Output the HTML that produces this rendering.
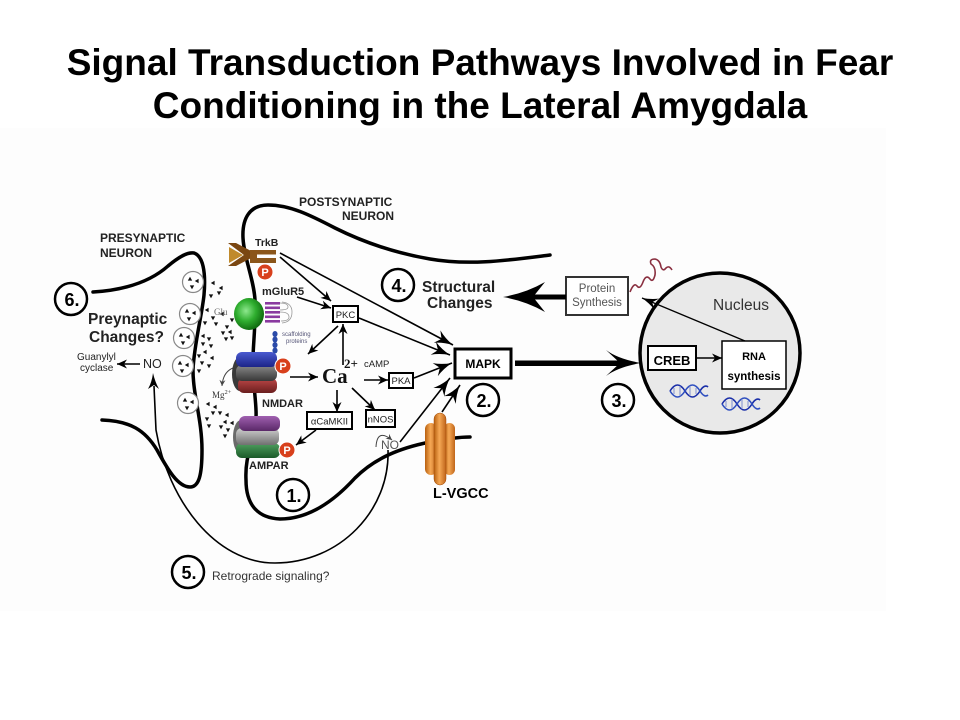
<!DOCTYPE html>
<html><head><meta charset="utf-8"><style>
html,body{margin:0;padding:0;background:#fff;}
svg{display:block;}
</style></head><body>
<svg width="960" height="720" viewBox="0 0 960 720" xmlns="http://www.w3.org/2000/svg" font-family="'Liberation Sans', Arial, sans-serif">
<defs>
  <marker id="mB" viewBox="-20 -10 22 20" refX="0" refY="0" markerWidth="22" markerHeight="20" markerUnits="userSpaceOnUse" orient="auto">
    <path d="M0,0 Q-10,-2 -18,-7 L-13,0 L-18,7 Q-10,2 0,0 Z" fill="#000"/>
  </marker>
  <marker id="mM" viewBox="-12 -6 14 12" refX="0" refY="0" markerWidth="14" markerHeight="12" markerUnits="userSpaceOnUse" orient="auto">
    <path d="M0,0 L-10,-4.5 L-7,0 L-10,4.5 Z" fill="#000"/>
  </marker>
  <marker id="mT" viewBox="-18 -8 20 16" refX="0" refY="0" markerWidth="20" markerHeight="16" markerUnits="userSpaceOnUse" orient="auto">
    <path d="M0,0 Q-9,-2 -16,-6 L-11,0 L-16,6 Q-9,2 0,0 Z" fill="#000"/>
  </marker>
  <marker id="mS" viewBox="-8 -4 10 8" refX="0" refY="0" markerWidth="10" markerHeight="8" markerUnits="userSpaceOnUse" orient="auto">
    <path d="M0,0 L-6,-3 L-4,0 L-6,3 Z" fill="#444"/>
  </marker>
  <radialGradient id="gG" cx="40%" cy="40%" r="65%">
    <stop offset="0" stop-color="#8ee88e"/><stop offset="0.5" stop-color="#2fae2f"/><stop offset="1" stop-color="#0c640c"/>
  </radialGradient>
  <linearGradient id="gO" x1="0" y1="0" x2="1" y2="0">
    <stop offset="0" stop-color="#b8600f"/><stop offset="0.45" stop-color="#f5a855"/><stop offset="1" stop-color="#c0651a"/>
  </linearGradient>
  <linearGradient id="gBl" x1="0" y1="0" x2="0" y2="1">
    <stop offset="0" stop-color="#4a5ad0"/><stop offset="1" stop-color="#1c2488"/>
  </linearGradient>
  <linearGradient id="gDk" x1="0" y1="0" x2="0" y2="1">
    <stop offset="0" stop-color="#8a8a8a"/><stop offset="1" stop-color="#383838"/>
  </linearGradient>
  <linearGradient id="gRd" x1="0" y1="0" x2="0" y2="1">
    <stop offset="0" stop-color="#c04848"/><stop offset="1" stop-color="#6a1e1e"/>
  </linearGradient>
  <linearGradient id="gPu" x1="0" y1="0" x2="0" y2="1">
    <stop offset="0" stop-color="#a060b0"/><stop offset="1" stop-color="#5a2868"/>
  </linearGradient>
  <linearGradient id="gLg" x1="0" y1="0" x2="0" y2="1">
    <stop offset="0" stop-color="#d0d0d0"/><stop offset="1" stop-color="#707070"/>
  </linearGradient>
  <linearGradient id="gGr" x1="0" y1="0" x2="0" y2="1">
    <stop offset="0" stop-color="#50a060"/><stop offset="1" stop-color="#1a5a28"/>
  </linearGradient>
  <path id="td" d="M-2.2,-1.6 L2.2,-1.6 L0,2.2 Z" fill="#111"/>
  <path id="tl" d="M1.6,-2.2 L1.6,2.2 L-2.2,0 Z" fill="#111"/>
  <path id="tu" d="M-2.2,1.6 L2.2,1.6 L0,-2.2 Z" fill="#111"/>
</defs>

<rect width="960" height="720" fill="#fff"/>
<rect x="0" y="128" width="886" height="483" fill="#fdfdfd"/>

<!-- Title -->
<text x="480" y="75" font-size="37" font-weight="bold" text-anchor="middle" fill="#000">Signal Transduction Pathways Involved in Fear</text>
<text x="480" y="118" font-size="37" font-weight="bold" text-anchor="middle" fill="#000">Conditioning in the Lateral Amygdala</text>

<!-- Membranes -->
<g fill="none" stroke="#000" stroke-width="3.5" stroke-linecap="round">
  <path d="M93,292 C125,290 150,282 168,266 C180,256 188,252 194,253 C203,256 206,272 204,295 C202,315 194,345 193,370 C193,395 202,420 202,450 C202,475 199,487 190,487 C178,487 168,470 157,450 C145,430 130,421 102,420"/>
  <path d="M550,255 C510,260 470,266 430,259 C395,253 365,243 335,228 C310,215 290,205 268,205 C250,205 242,218 243,238 C244,258 254,280 255,300 C256,330 252,350 253,370 C254,395 258,410 255,430 C250,450 245,460 246,480 C246,505 258,518 280,519 C310,519 335,500 355,478 C375,458 400,448 430,442 C445,439 460,437 470,437"/>
</g>
<!-- Retrograde -->
<path d="M388,450 C390,510 340,563 275,563 C215,563 168,500 156,430 L154,386" fill="none" stroke="#000" stroke-width="1.6"/>
<path d="M153,373 Q155,382 159,389 L154,385 L148,389 Q152,382 153,373 Z" fill="#000"/>

<!-- Nucleus -->
<circle cx="720" cy="353" r="80" fill="#e9e9e9" stroke="#000" stroke-width="3.5"/>
<text x="741" y="310" font-size="15.5" text-anchor="middle" fill="#333">Nucleus</text>

<!-- Boxes -->
<g fill="#fff" stroke="#000">
  <rect x="333" y="306" width="25" height="16" stroke-width="2"/>
  <rect x="389" y="373" width="24" height="15" stroke-width="2"/>
  <rect x="307" y="412" width="45" height="17" stroke-width="2"/>
  <rect x="366" y="410" width="29" height="17" stroke-width="2"/>
  <rect x="455" y="349" width="56" height="29" stroke-width="3"/>
  <rect x="566" y="277" width="62" height="38" stroke-width="2" stroke="#333"/>
  <rect x="648" y="346" width="48" height="24" stroke-width="2"/>
  <rect x="722" y="341" width="64" height="48" stroke-width="1.5"/>
</g>
<g font-size="9.5" fill="#222" text-anchor="middle">
  <text x="345.5" y="318">PKC</text>
  <text x="401" y="384">PKA</text>
  <text x="329.5" y="424.5">αCaMKII</text>
  <text x="380.5" y="422.5">nNOS</text>
</g>
<text x="483" y="368" font-size="12" font-weight="bold" text-anchor="middle">MAPK</text>
<text x="597" y="292" font-size="11.5" text-anchor="middle" fill="#555">Protein</text>
<text x="597" y="306" font-size="11.5" text-anchor="middle" fill="#555">Synthesis</text>
<text x="672" y="365" font-size="13" font-weight="bold" text-anchor="middle">CREB</text>
<text x="754" y="360" font-size="11" font-weight="bold" text-anchor="middle">RNA</text>
<text x="754" y="380" font-size="11.5" font-weight="bold" text-anchor="middle">synthesis</text>

<!-- Big arrows -->
<rect x="530" y="294.5" width="36" height="5" fill="#000"/>
<path d="M503,297 Q526,293 545,282 L533,297 L545,312 Q526,301 503,297 Z" fill="#000"/>
<rect x="515" y="360.5" width="110" height="5.5" fill="#000"/>
<path d="M641,363 Q618,359 606,350 L620,363 L606,376 Q618,367 641,363 Z" fill="#000"/>
<line x1="696" y1="358" x2="722" y2="358" stroke="#000" stroke-width="1.6" marker-end="url(#mM)"/>
<line x1="745" y1="341" x2="642" y2="298" stroke="#000" stroke-width="1.3" marker-end="url(#mT)"/>

<!-- Pathway arrows -->
<g stroke="#000" stroke-width="1.6" fill="none">
  <line x1="280" y1="257" x2="331" y2="301" marker-end="url(#mM)"/>
  <line x1="280" y1="253" x2="453" y2="345" marker-end="url(#mB)"/>
  <line x1="297" y1="297" x2="331" y2="308" marker-end="url(#mM)"/>
  <line x1="359" y1="318" x2="450" y2="355" marker-end="url(#mB)"/>
  <line x1="338" y1="326" x2="308" y2="354" marker-end="url(#mM)"/>
  <line x1="343" y1="365" x2="343" y2="324" marker-end="url(#mM)"/>
  <line x1="290" y1="377" x2="318" y2="377" marker-end="url(#mM)"/>
  <line x1="364" y1="380" x2="388" y2="380" marker-end="url(#mM)"/>
  <line x1="414" y1="378" x2="452" y2="363" marker-end="url(#mB)"/>
  <line x1="337" y1="390" x2="337" y2="412" marker-end="url(#mM)"/>
  <line x1="352" y1="388" x2="375" y2="410" marker-end="url(#mM)"/>
  <line x1="316" y1="430" x2="296" y2="445" marker-end="url(#mM)"/>
  <line x1="400" y1="442" x2="450" y2="378" marker-end="url(#mB)"/>
  <line x1="442" y1="412" x2="460" y2="385" marker-end="url(#mB)"/>
  <line x1="140" y1="364" x2="117" y2="364" marker-end="url(#mM)"/>
</g>
<path d="M376,447 Q377,428 392,440" fill="none" stroke="#444" stroke-width="1" marker-end="url(#mS)"/>
<path d="M233,368 Q223,372 222,386" fill="none" stroke="#444" stroke-width="1" marker-end="url(#mS)"/>

<!-- L-VGCC -->
<rect x="425" y="423" width="12" height="52" rx="6" fill="url(#gO)"/>
<rect x="444" y="423" width="11" height="52" rx="5.5" fill="url(#gO)"/>
<rect x="434" y="413" width="12" height="72" rx="6" fill="url(#gO)" stroke="#a04a08" stroke-width="0.5"/>
<text x="433" y="498" font-size="14.5" font-weight="bold">L-VGCC</text>

<!-- Vesicles -->
<g fill="#fff" stroke="#888" stroke-width="1.2">
  <circle cx="193" cy="282" r="10.5"/>
  <circle cx="190" cy="314" r="10.5"/>
  <circle cx="184" cy="338" r="10.5"/>
  <circle cx="183" cy="366" r="10.5"/>
  <circle cx="188" cy="403" r="10.5"/>
</g>
<g>
  <use href="#tu" x="190" y="279"/><use href="#tl" x="197" y="281"/><use href="#td" x="192" y="287"/>
  <use href="#tu" x="187" y="311"/><use href="#tl" x="194" y="313"/><use href="#td" x="189" y="319"/>
  <use href="#tu" x="181" y="335"/><use href="#tl" x="188" y="337"/><use href="#td" x="183" y="343"/>
  <use href="#tu" x="180" y="363"/><use href="#tl" x="187" y="365"/><use href="#td" x="182" y="371"/>
  <use href="#tu" x="185" y="400"/><use href="#tl" x="192" y="402"/><use href="#td" x="187" y="408"/>
  <use href="#tl" x="213" y="283"/><use href="#td" x="211" y="296"/><use href="#td" x="219" y="293"/><use href="#tl" x="221" y="288"/>
  <use href="#tl" x="207" y="310"/><use href="#td" x="213" y="318"/><use href="#td" x="216" y="324"/><use href="#td" x="205" y="323"/>
  <use href="#tl" x="222" y="314"/><use href="#td" x="227" y="327"/><use href="#td" x="223" y="333"/><use href="#td" x="232" y="320"/>
  <use href="#tl" x="203" y="336"/><use href="#td" x="209" y="339"/><use href="#td" x="203" y="344"/><use href="#td" x="211" y="346"/>
  <use href="#td" x="226" y="339"/><use href="#td" x="232" y="338"/><use href="#tl" x="230" y="332"/>
  <use href="#td" x="199" y="356"/><use href="#tl" x="205" y="352"/><use href="#tl" x="212" y="358"/><use href="#td" x="202" y="363"/>
  <use href="#td" x="199" y="371"/><use href="#td" x="209" y="366"/>
  <use href="#tl" x="208" y="404"/><use href="#tl" x="215" y="407"/><use href="#td" x="213" y="413"/><use href="#td" x="220" y="413"/>
  <use href="#td" x="207" y="419"/><use href="#tl" x="227" y="415"/><use href="#tl" x="225" y="422"/><use href="#td" x="228" y="430"/>
  <use href="#td" x="221" y="427"/><use href="#td" x="225" y="436"/><use href="#td" x="209" y="426"/><use href="#tl" x="232" y="423"/>
</g>

<!-- TrkB -->
<path d="M228,243 L236,243 L253,252 L253,257 L236,266 L228,266 L244,255 Z" fill="#7a4712"/>
<path d="M229,247 L243,255 L229,263 Z" fill="#c08a2c"/>
<path d="M250,250 L276,250 L276,254.5 L257,254.5 L257,258 L276,258 L276,263 L250,263 Z" fill="#8b561a"/>
<circle cx="265" cy="272" r="8" fill="#d8401c" stroke="#fff" stroke-width="1"/>
<text x="265" y="276" font-size="11" font-weight="bold" fill="#fff" text-anchor="middle">P</text>
<text x="255" y="246" font-size="10.5" font-weight="bold" fill="#222">TrkB</text>

<!-- mGluR5 -->
<g fill="#8a3aa0">
  <rect x="265" y="302" width="15" height="2.6"/>
  <rect x="265" y="306.5" width="15" height="2.6"/>
  <rect x="265" y="311" width="15" height="2.6"/>
  <rect x="265" y="315.5" width="15" height="2.6"/>
  <rect x="265" y="320" width="15" height="2.6"/>
</g>
<path d="M280,303 q8,0 8,4 q0,3 -8,3 M280,312 q9,0 9,5 q0,4 -8,4 M282,302 q10,1 10,10 q0,10 -10,11" fill="none" stroke="#999" stroke-width="0.8"/>
<ellipse cx="249" cy="314" rx="15" ry="16" fill="url(#gG)"/>
<text x="214" y="315" font-size="9" font-family="'Liberation Serif', serif" fill="#666">Glu</text>
<text x="262" y="295" font-size="11" font-weight="bold" fill="#222">mGluR5</text>
<g fill="#2a4aa8">
  <ellipse cx="275" cy="334" rx="2.6" ry="3"/>
  <ellipse cx="275" cy="339.5" rx="2.6" ry="3"/>
  <ellipse cx="275" cy="345" rx="2.6" ry="3"/>
  <ellipse cx="275" cy="350.5" rx="2.6" ry="3"/>
</g>
<text x="282" y="336" font-size="6" fill="#557">scaffolding</text>
<text x="286" y="343" font-size="6" fill="#557">proteins</text>

<!-- NMDAR -->
<ellipse cx="240" cy="374" rx="8" ry="17" fill="#3a3a3a"/>
<rect x="238" y="378" width="39" height="15" rx="6" fill="url(#gRd)"/>
<rect x="236" y="365" width="41" height="16" rx="6" fill="url(#gDk)"/>
<rect x="236" y="352" width="41" height="15" rx="6" fill="url(#gBl)"/>
<circle cx="283" cy="366" r="8" fill="#d8401c" stroke="#fff" stroke-width="1"/>
<text x="283" y="370" font-size="11" font-weight="bold" fill="#fff" text-anchor="middle">P</text>
<text x="262" y="407" font-size="11" font-weight="bold" fill="#222">NMDAR</text>
<text x="212" y="398" font-size="9" font-family="'Liberation Serif', serif" fill="#333">Mg<tspan font-size="6.5" dy="-4">2+</tspan></text>

<!-- AMPAR -->
<ellipse cx="241" cy="437" rx="8" ry="17" fill="#6a6a6a"/>
<rect x="236" y="443" width="44" height="15" rx="6" fill="url(#gGr)"/>
<rect x="236" y="428" width="43" height="17" rx="6" fill="url(#gLg)"/>
<rect x="239" y="416" width="41" height="15" rx="6" fill="url(#gPu)"/>
<circle cx="287" cy="450" r="8" fill="#d8401c" stroke="#fff" stroke-width="1"/>
<text x="287" y="454" font-size="11" font-weight="bold" fill="#fff" text-anchor="middle">P</text>
<text x="249" y="469" font-size="11" font-weight="bold" fill="#222">AMPAR</text>

<!-- Ca2+, cAMP, NO -->
<text x="322" y="383" font-size="21" font-weight="bold" font-family="'Liberation Serif', serif" fill="#111">Ca</text>
<text x="344" y="368" font-size="13" font-weight="bold" font-family="'Liberation Serif', serif" fill="#111">2+</text>
<text x="364" y="367" font-size="9.5" fill="#222">cAMP</text>
<text x="390" y="449" font-size="12" text-anchor="middle" fill="#555">NO</text>

<!-- Labels -->
<text x="100" y="242" font-size="12" font-weight="bold" fill="#222">PRESYNAPTIC</text>
<text x="100" y="257" font-size="12" font-weight="bold" fill="#222">NEURON</text>
<text x="299" y="206" font-size="12" font-weight="bold" fill="#222">POSTSYNAPTIC</text>
<text x="394" y="220" font-size="12" font-weight="bold" fill="#222" text-anchor="end">NEURON</text>
<text x="422" y="292" font-size="15.5" font-weight="bold" fill="#222">Structural</text>
<text x="427" y="308" font-size="15.5" font-weight="bold" fill="#222">Changes</text>
<text x="88" y="324" font-size="15.5" font-weight="bold" fill="#222">Preynaptic</text>
<text x="89" y="342" font-size="15.5" font-weight="bold" fill="#222">Changes?</text>
<text x="77" y="360" font-size="10" fill="#222">Guanylyl</text>
<text x="80" y="371" font-size="10" fill="#222">cyclase</text>
<text x="143" y="368" font-size="12.5" fill="#222">NO</text>
<text x="212" y="580" font-size="12" fill="#333">Retrograde signaling?</text>

<!-- Number circles -->
<g fill="#fff" stroke="#000" stroke-width="2.5">
  <circle cx="71" cy="299" r="16"/>
  <circle cx="293" cy="495" r="16"/>
  <circle cx="188" cy="572" r="16"/>
  <circle cx="398" cy="285" r="16"/>
  <circle cx="483" cy="400" r="16"/>
  <circle cx="618" cy="400" r="16"/>
</g>
<g font-size="18" font-weight="bold" text-anchor="middle" fill="#000">
  <text x="72" y="306">6.</text>
  <text x="294" y="502">1.</text>
  <text x="189" y="579">5.</text>
  <text x="399" y="292">4.</text>
  <text x="484" y="407">2.</text>
  <text x="619" y="407">3.</text>
</g>

<!-- mRNA squiggle -->
<path d="M630,292 q4,-10 7,-6 q3,4 6,-4 q3,-8 7,-3 q3,4 5,-4 q1,-8 -4,-11 q-2,-5 4,-5 q5,1 6,8 q2,5 5,1 q3,-3 6,2" fill="none" stroke="#8a3040" stroke-width="1.6"/>

<!-- DNA -->
<g fill="none" stroke-width="1.6">
  <path d="M670,391 C675,383 680,383 685,391 C690,399 695,399 700,391 C703,386 706,385 708,387" stroke="#1a2ea8"/>
  <path d="M670,391 C675,399 680,399 685,391 C690,383 695,383 700,391 C703,396 706,397 708,395" stroke="#3050c0"/>
  <path d="M674,388 v6 M680,386 v10 M690,386 v10 M696,388 v6" stroke="#8090d0" stroke-width="1"/>
  <path d="M722,404 C727,396 732,396 737,404 C742,412 747,412 752,404 C755,399 758,398 760,400" stroke="#1a2ea8"/>
  <path d="M722,404 C727,412 732,412 737,404 C742,396 747,396 752,404 C755,409 758,410 760,408" stroke="#3050c0"/>
  <path d="M726,401 v6 M732,399 v10 M742,399 v10 M748,401 v6" stroke="#8090d0" stroke-width="1"/>
</g>
</svg>
</body></html>
